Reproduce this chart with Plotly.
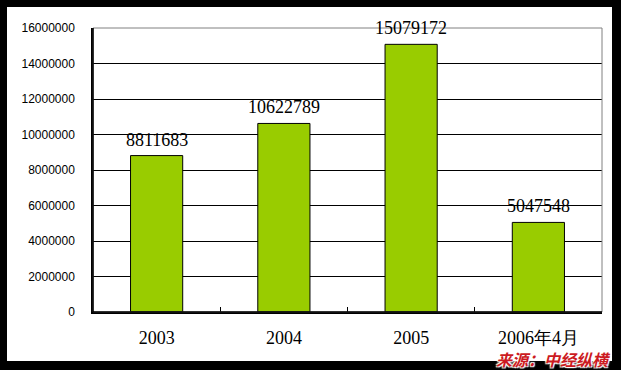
import plotly.graph_objects as go

categories = ["2003", "2004", "2005", "2006年4月"]
values = [8811683, 10622789, 15079172, 5047548]
y_ticks = [0, 2000000, 4000000, 6000000, 8000000, 10000000, 12000000, 14000000, 16000000]
source_text = "来源：中经纵横"

W, H = 621, 370
L, R, T, B = 93, 602, 28, 312
pw, ph = R - L, B - T

def px(x):
    return (x - L) / pw

def py(y):
    return (B - y) / ph

fig = go.Figure()
fig.add_trace(go.Bar(
    x=categories, y=values, width=0.41,
    marker=dict(color="#99CC00", line=dict(color="black", width=1)),
    hoverinfo="skip",
))

for i, v in enumerate(values):
    fig.add_annotation(x=i, y=v, text=str(v), showarrow=False, yanchor="bottom",
                       yshift=4, font=dict(family="Liberation Serif, Times New Roman, serif",
                                           size=18, color="black"))

fig.add_annotation(xref="paper", yref="paper", x=px(613), y=py(358.5), xanchor="right",
                   yanchor="middle", text="<b><i>" + source_text + "</i></b>", showarrow=False,
                   font=dict(family="Noto Sans CJK SC", size=16, color="#CC1A22",
                             shadow="1px 1px 1px white, -1px -1px 1px white, 1px -1px 1px white, -1px 1px 1px white"))

fig.add_shape(type="rect", xref="paper", yref="paper", x0=px(7), x1=px(612), y0=py(361), y1=py(7),
              fillcolor="white", line=dict(width=0), layer="below")
fig.add_shape(type="rect", xref="paper", yref="paper", x0=0, x1=1, y0=0, y1=1,
              line=dict(color="#808080", width=1), layer="above")
fig.add_shape(type="line", xref="paper", yref="paper", x0=0, x1=0, y0=0, y1=1,
              line=dict(color="black", width=1.5), layer="above")
fig.add_shape(type="line", xref="paper", yref="paper", x0=0, x1=1, y0=0, y1=0,
              line=dict(color="black", width=1.5), layer="above")

fig.update_layout(
    width=W, height=H,
    margin=dict(l=L, r=W - R, t=T, b=H - B),
    paper_bgcolor="black", plot_bgcolor="white",
    showlegend=False, bargap=0.59,
    xaxis=dict(type="category", categoryorder="array", categoryarray=categories,
               range=[-0.5, len(categories) - 0.5], automargin=False,
               showgrid=False, ticks="inside", tickson="boundaries",
               ticklen=5, tickcolor="black", tickwidth=1, showline=True, linecolor="black",
               linewidth=1.5, ticklabelstandoff=9, tickangle=0,
               tickfont=dict(family="Liberation Serif, Times New Roman, serif", size=18, color="black")),
    yaxis=dict(range=[0, 16000000], tickvals=y_ticks, ticktext=[str(t) for t in y_ticks],
               automargin=False,
               showgrid=True, gridcolor="black", gridwidth=1, zeroline=False,
               showline=True, linecolor="black", linewidth=1.5, ticks="", ticklabelstandoff=14,
               tickfont=dict(family="Arial, Liberation Sans, sans-serif", size=12, color="black")),
)

fig.write_html("out.html")
